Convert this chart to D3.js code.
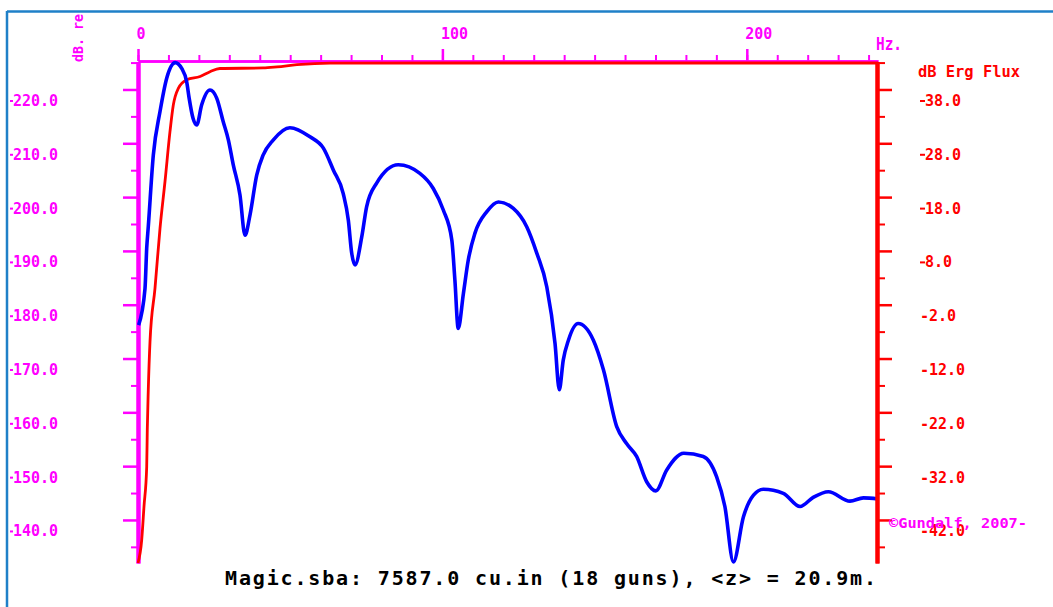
<!DOCTYPE html>
<html>
<head>
<meta charset="utf-8">
<script src="https://cdn.jsdelivr.net/npm/d3@7"></script>
<style>
  html, body { margin: 0; padding: 0; background: #ffffff; }
  svg { display: block; }
  text { font-family: "DejaVu Sans Mono", "Liberation Mono", monospace; font-weight: bold; }
</style>
</head>
<body>
<svg id="chart" width="1053" height="607"></svg>
<script>
// Frequency axis (Hz)
const freqMajorTicks = [0, 100, 200];
const freqMinorTicks = [0, 10, 20, 30, 40, 50, 60, 70, 80, 90, 100, 110, 120,
                        130, 140, 150, 160, 170, 180, 190, 200, 210, 220, 230, 240];

// Left axis: source level (dB)
const levelMajorTicks = [140, 150, 160, 170, 180, 190, 200, 210, 220];
const levelMinorTicks = [135, 145, 155, 165, 175, 185, 195, 205, 215, 225];

// Right axis: cumulative energy flux (dB)
const fluxMajorTicks = [-42, -32, -22, -12, -2, 8, 18, 28, 38];
const fluxMinorTicks = [-47, -37, -27, -17, -7, 3, 13, 23, 33, 43];

// Amplitude spectrum of the array (blue)
const specFreq = [0.2, 2.3, 2.86, 3.38, 5.03, 7.23, 9.43, 12.2, 14.36, 16.0, 16.8, 18.1, 19.3,
  20.9, 23.65, 25.85, 28.0, 29.7, 31.3, 33.5, 35.15, 36.8, 39.0, 41.1, 44.4, 49.9, 56.5,
  60.9, 64.2, 67.4, 69.1, 70.2, 71.3, 73.5, 75.1, 78.4, 85.5, 92.6, 97.0, 100.3, 103.1,
  104.1, 105.2, 106.9, 108.5, 110.7, 114.6, 118.4, 123.3, 127.7, 131.0, 134.3, 137.0,
  138.4, 139.7, 141.4, 144.6, 149.6, 152.9, 157.3, 160.5, 163.8, 167.1, 170.1, 173.7,
  179.3, 185.7, 190.1, 192.8, 195.6, 198.9, 202.2, 205.4, 212.0, 217.5, 221.8, 226.8,
  233.9, 238.3, 243.1];
const specLevel = [176.2, 183.0, 190.5, 194.5, 207.8, 215.9, 222.1, 225.0, 223.9, 221.4, 218.4,
  214.6, 213.4, 217.1, 219.9, 218.4, 214.0, 210.6, 206.0, 200.4, 192.9, 196.7, 204.1, 207.8,
  210.6, 212.9, 211.2, 209.1, 205.0, 200.7, 195.7, 189.6, 187.4, 192.6, 198.2, 202.6, 206.0,
  204.4, 201.6, 197.6, 192.0, 184.6, 175.6, 182.1, 188.3, 193.3, 197.3, 199.1, 197.9, 194.5,
  189.6, 183.3, 172.8, 164.2, 169.7, 173.4, 176.5, 173.4, 167.9, 157.3, 154.2, 151.8, 147.1,
  145.4, 149.3, 152.4, 151.8, 148.0, 142.5, 132.2, 140.6, 144.6, 145.7, 144.95, 142.5,
  144.2, 145.25, 143.5, 144.1, 143.9];

// Cumulative energy flux (red)
const fluxFreq = [0, 1.22, 1.97, 2.86, 3.05, 3.38, 3.94, 5.58, 7.23, 8.87, 10.51, 11.6, 13.24,
  16.0, 20.4, 23.65, 26.9, 41.1, 45.7, 52.2, 63.1, 120.0, 180.0, 243.1];
const fluxLevel = [-50.0, -45.7, -39.5, -32.1, -25.3, -17.8, -8.9, 1.05, 12.2, 20.9, 30.2,
  35.1, 38.2, 39.8, 40.4, 41.3, 41.9, 42.0, 42.2, 42.6, 42.9, 42.92, 42.92, 42.92];

const MAGENTA = "#ff00ff", RED = "#ff0000", BLUE = "#0000ff", FRAME = "#1f80c8";

const svg = d3.select("#chart");

// outer frame
svg.append("line").attr("x1", 7).attr("x2", 1053).attr("y1", 11.5).attr("y2", 11.5)
  .attr("stroke", FRAME).attr("stroke-width", 2.5);
svg.append("line").attr("x1", 7).attr("x2", 7).attr("y1", 11).attr("y2", 607)
  .attr("stroke", FRAME).attr("stroke-width", 2.5);

const x = d3.scaleLinear().domain([0, 243.1]).range([138, 878]);
const yL = d3.scaleLinear().domain([132.0, 225.2]).range([563, 61.5]);
const yR = d3.scaleLinear().domain([-50.0, 43.2]).range([563, 61.5]);

function styleAxis(g, color, domainWidth, tickWidth) {
  g.select(".domain").attr("stroke", color).attr("stroke-width", domainWidth);
  g.selectAll(".tick line").attr("stroke", color).attr("stroke-width", tickWidth);
}

// ---- top frequency axis ----
const topMinor = svg.append("g").attr("transform", "translate(0,61)")
  .call(d3.axisTop(x).tickValues(freqMinorTicks).tickSize(6).tickSizeOuter(0).tickFormat(""));
styleAxis(topMinor, MAGENTA, 2.5, 2);
const topMajor = svg.append("g").attr("transform", "translate(0,61)")
  .call(d3.axisTop(x).tickValues(freqMajorTicks).tickSize(12).tickSizeOuter(0).tickFormat(d3.format("d")));
styleAxis(topMajor, MAGENTA, 2.5, 2.5);
topMajor.selectAll(".tick text")
  .attr("fill", MAGENTA).attr("font-size", 15).attr("text-anchor", "start")
  .attr("x", -2).attr("y", -22.5).attr("dy", 0);

svg.append("text").attr("x", 876).attr("y", 50).attr("fill", MAGENTA)
  .attr("font-size", 17).attr("font-weight", "normal")
  .attr("textLength", 26).attr("lengthAdjust", "spacingAndGlyphs").text("Hz.");

// ---- left level axis ----
const leftMinor = svg.append("g").attr("transform", "translate(138,0)")
  .call(d3.axisLeft(yL).tickValues(levelMinorTicks).tickSize(7).tickSizeOuter(0).tickFormat(""));
styleAxis(leftMinor, MAGENTA, 4, 2);
const leftMajor = svg.append("g").attr("transform", "translate(138,0)")
  .call(d3.axisLeft(yL).tickValues(levelMajorTicks).tickSize(15).tickSizeOuter(0).tickFormat(""));
styleAxis(leftMajor, MAGENTA, 4, 2.5);
leftMajor.selectAll(".tick").each(function (d) {
  const t = d3.select(this);
  t.append("line").attr("x1", -128).attr("x2", -125).attr("y1", 11).attr("y2", 11)
    .attr("stroke", MAGENTA).attr("stroke-width", 2);
  t.append("text").attr("x", -125).attr("y", 16).attr("fill", MAGENTA)
    .attr("text-anchor", "start").attr("font-size", 15)
    .text(d3.format(".1f")(d));
});

// rotated units label on the left
svg.append("text")
  .attr("transform", "translate(83,62) rotate(-90)")
  .attr("fill", MAGENTA).attr("font-size", 14)
  .attr("textLength", 48).attr("lengthAdjust", "spacingAndGlyphs").text("dB. re");

// ---- curves ----
const fluxLine = d3.line().x((d, i) => x(fluxFreq[i])).y((d, i) => yR(fluxLevel[i]))
  .curve(d3.curveMonotoneX);
svg.append("path").datum(fluxLevel).attr("d", fluxLine)
  .attr("fill", "none").attr("stroke", RED).attr("stroke-width", 2.8)
  .attr("stroke-linejoin", "round");

const specLine = d3.line().x((d, i) => x(specFreq[i])).y((d, i) => yL(specLevel[i]))
  .curve(d3.curveMonotoneX);
svg.append("path").datum(specLevel).attr("d", specLine)
  .attr("fill", "none").attr("stroke", BLUE).attr("stroke-width", 3.6)
  .attr("stroke-linejoin", "round");

// ---- right flux axis ----
const rightMinor = svg.append("g").attr("transform", "translate(877,0)")
  .call(d3.axisRight(yR).tickValues(fluxMinorTicks).tickSize(8).tickSizeOuter(0).tickFormat(""));
styleAxis(rightMinor, RED, 4, 2);
const rightMajor = svg.append("g").attr("transform", "translate(877,0)")
  .call(d3.axisRight(yR).tickValues(fluxMajorTicks).tickSize(15).tickSizeOuter(0).tickFormat(""));
styleAxis(rightMajor, RED, 4, 2.5);
rightMajor.selectAll(".tick").each(function (d) {
  const t = d3.select(this);
  if (d > 0) {
    t.append("line").attr("x1", 43).attr("x2", 48).attr("y1", 11).attr("y2", 11)
      .attr("stroke", RED).attr("stroke-width", 2);
  }
  const s = d3.format(".1f")(Math.abs(d));
  t.append("text").attr("x", d > 0 ? 48 : 43).attr("y", 16).attr("fill", RED)
    .attr("text-anchor", "start").attr("font-size", 15)
    .text(d < 0 ? "-" + s : s);
});

svg.append("text").attr("x", 918).attr("y", 77).attr("fill", RED)
  .attr("font-size", 15).attr("textLength", 102).attr("lengthAdjust", "spacingAndGlyphs")
  .text("dB Erg Flux");

svg.append("text").attr("x", 889).attr("y", 528).attr("fill", MAGENTA)
  .attr("font-size", 14).attr("textLength", 138).attr("lengthAdjust", "spacingAndGlyphs")
  .text("©Gundalf, 2007-");

// caption
svg.append("text").attr("x", 225).attr("y", 585).attr("fill", "#000")
  .attr("font-size", 20).attr("textLength", 651).attr("lengthAdjust", "spacing")
  .text("Magic.sba: 7587.0 cu.in (18 guns), <z> = 20.9m.");
</script>
</body>
</html>
